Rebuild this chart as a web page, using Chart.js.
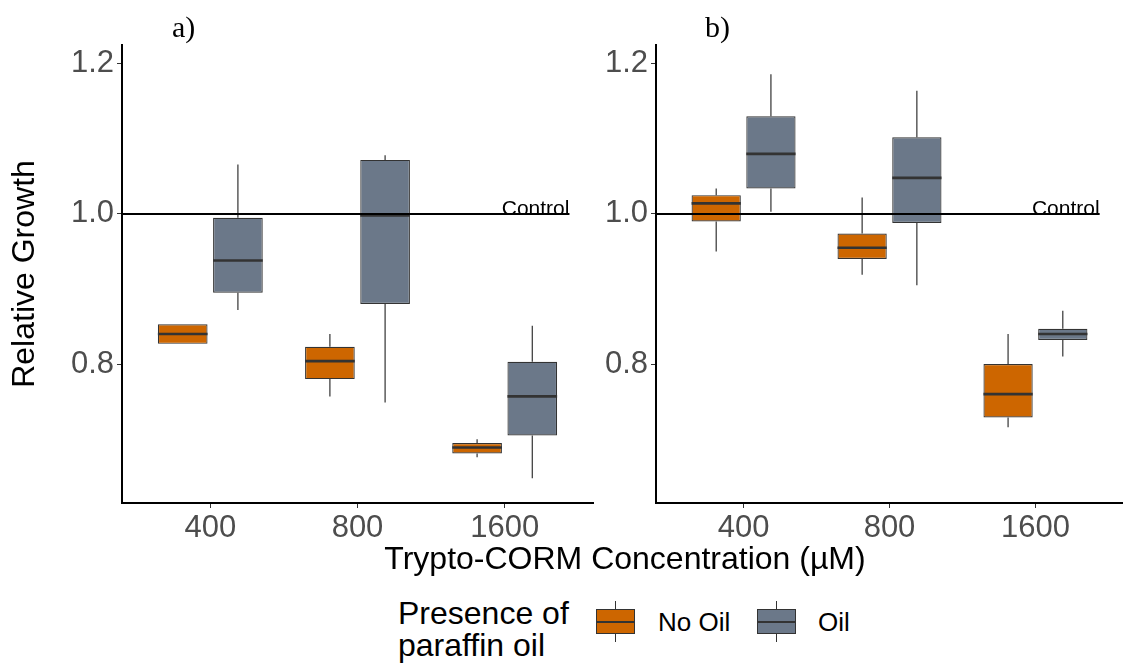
<!DOCTYPE html>
<html>
<head>
<meta charset="utf-8">
<script src="https://cdn.jsdelivr.net/npm/chart.js@4/dist/chart.umd.min.js"></script>
<style>
  body { margin: 0; width: 1123px; height: 666px; position: relative; background: #fff; overflow: hidden;
         font-family: 'Liberation Sans', Arial, sans-serif; }
  canvas { position: absolute; top: 0; }
  .panel-tag { position: absolute; top: 10px; font: 30px 'Liberation Serif', 'Times New Roman', serif; line-height: 34px; }
  .x-title { position: absolute; left: 325px; width: 600px; top: 539px; text-align: center; font-size: 32px; line-height: 38px; color: #000; }
  .legend-title { position: absolute; left: 398px; top: 597px; font-size: 32px; line-height: 32px; color: #000; }
  .key { position: absolute; top: 601px; width: 39px; height: 41px; }
  .key .whisker { position: absolute; left: 19px; top: 0; width: 1px; height: 41px; background: #333; }
  .key .box { position: absolute; left: 0; top: 8px; width: 37px; height: 23px; border: 1px solid #333; }
  .key .median { position: absolute; left: 1px; top: 20px; width: 37px; height: 2px; background: #333; }
  .key-label { position: absolute; top: 607px; font-size: 26px; line-height: 30px; color: #000; }
</style>
</head>
<body>
<canvas id="panelA" width="600" height="545" style="left:0"></canvas>
<canvas id="panelB" width="523" height="545" style="left:600px"></canvas>

<div class="panel-tag" style="left:172px">a)</div>
<div class="panel-tag" style="left:705px">b)</div>
<div class="x-title">Trypto-CORM Concentration (µM)</div>

<div class="legend-title">Presence of<br>paraffin oil</div>
<div class="key" style="left:596px"><div class="whisker"></div><div class="box" style="background:#CD6600"></div><div class="median"></div></div>
<div class="key-label" style="left:658px">No Oil</div>
<div class="key" style="left:757px"><div class="whisker"></div><div class="box" style="background:#6B7889"></div><div class="median"></div></div>
<div class="key-label" style="left:818px">Oil</div>

<script>
// Trypto-CORM growth boxplots, two panels

const concentrations = ['400', '800', '1600'];
const seriesNames = ['No Oil', 'Oil'];
const seriesColours = ['#CD6600', '#6B7889'];

// five-number summary per concentration: [min, q1, median, q3, max]
const panelANoOil = [[0.827, 0.827, 0.840, 0.853, 0.853], [0.757, 0.780, 0.804, 0.823, 0.840], [0.676, 0.681, 0.689, 0.695, 0.700]];
const panelAOil = [[0.872, 0.895, 0.938, 0.995, 1.066], [0.749, 0.880, 0.998, 1.072, 1.078], [0.648, 0.705, 0.757, 0.803, 0.851]];
const panelBNoOil = [[0.950, 0.990, 1.014, 1.025, 1.034], [0.919, 0.940, 0.955, 0.974, 1.022], [0.716, 0.729, 0.760, 0.800, 0.840]];
const panelBOil = [[1.003, 1.034, 1.080, 1.130, 1.186], [0.905, 0.988, 1.048, 1.102, 1.164], [0.810, 0.832, 0.840, 0.847, 0.871]];

const yTicks = [0.8, 1.0, 1.2];
const controlValue = 1.0;
const controlLabel = 'Control';

const FONT = "'Liberation Sans', Arial, sans-serif";
const DODGE = 0.1875;
const CONTROL_END = 3.44;

Chart.defaults.font.family = FONT;

// Whiskers go under the boxes, medians and the control line on top
const boxPlotExtras = {
  id: 'boxPlotExtras',
  beforeDatasetsDraw(chart) {
    const { ctx, scales: { y } } = chart;
    ctx.save();
    ctx.strokeStyle = '#333333';
    ctx.lineWidth = 1.2;
    chart.data.datasets.forEach((ds, di) => {
      chart.getDatasetMeta(di).data.forEach((bar, i) => {
        const [min, q1, , q3, max] = ds.stats[i];
        ctx.beginPath();
        ctx.moveTo(bar.x, y.getPixelForValue(max));
        ctx.lineTo(bar.x, y.getPixelForValue(q3));
        ctx.moveTo(bar.x, y.getPixelForValue(q1));
        ctx.lineTo(bar.x, y.getPixelForValue(min));
        ctx.stroke();
      });
    });
    ctx.restore();
  },
  afterDatasetsDraw(chart) {
    const { ctx, chartArea, scales: { x, y } } = chart;
    ctx.save();
    ctx.strokeStyle = '#333333';
    ctx.lineWidth = 2.6;
    chart.data.datasets.forEach((ds, di) => {
      chart.getDatasetMeta(di).data.forEach((bar, i) => {
        const my = y.getPixelForValue(ds.stats[i][2]);
        ctx.beginPath();
        ctx.moveTo(bar.x - bar.width / 2, my);
        ctx.lineTo(bar.x + bar.width / 2, my);
        ctx.stroke();
      });
    });

    // control reference line
    const cy = y.getPixelForValue(controlValue);
    const cx = x.getPixelForValue(CONTROL_END);
    ctx.strokeStyle = '#000';
    ctx.lineWidth = 2;
    ctx.beginPath();
    ctx.moveTo(chartArea.left, cy);
    ctx.lineTo(cx, cy);
    ctx.stroke();
    ctx.fillStyle = '#000';
    ctx.font = '21px ' + FONT;
    ctx.textAlign = 'right';
    ctx.textBaseline = 'alphabetic';
    ctx.fillText(controlLabel, cx, cy + 1);
    ctx.restore();
  }
};

function boxDataset(label, stats, offset, colour) {
  return {
    label,
    stats,
    data: stats.map((s, i) => ({ x: i + 1 + offset, y: [s[1], s[3]] })),
    backgroundColor: colour,
    borderColor: '#333333',
    borderWidth: 1.2,
    borderSkipped: false,
    grouped: false,
    categoryPercentage: 1,
    barPercentage: 0.9
  };
}

function makePanel(canvasId, noOil, oil, axisWidth, rightPad, showTitle) {
  const tickFont = { size: 31, family: FONT };
  return new Chart(document.getElementById(canvasId), {
    type: 'bar',
    data: {
      datasets: [
        boxDataset(seriesNames[0], noOil, -DODGE, seriesColours[0]),
        boxDataset(seriesNames[1], oil, DODGE, seriesColours[1])
      ]
    },
    options: {
      responsive: false,
      animation: false,
      layout: { padding: { top: 45, right: rightPad, left: 0, bottom: 0 } },
      plugins: { legend: { display: false }, tooltip: { enabled: false }, title: { display: false } },
      scales: {
        x: {
          type: 'linear',
          min: 0.4,
          max: 3.6,
          offset: false,
          afterBuildTicks: s => { s.ticks = concentrations.map((c, i) => ({ value: i + 1 })); },
          afterFit: s => { s.height = 42; },
          ticks: { callback: (v, i) => concentrations[i], font: tickFont, color: '#4D4D4D', padding: 2, autoSkip: false, maxRotation: 0 },
          grid: { drawOnChartArea: false, drawTicks: true, tickLength: 5, color: '#333333', offset: false },
          border: { display: true, color: '#000', width: 2 }
        },
        y: {
          min: 0.615,
          max: 1.225,
          beginAtZero: false,
          afterBuildTicks: s => { s.ticks = yTicks.map(v => ({ value: v })); },
          afterFit: s => { s.width = axisWidth; },
          ticks: { callback: v => v.toFixed(1), font: tickFont, color: '#4D4D4D', padding: 3 },
          grid: { drawOnChartArea: false, drawTicks: true, tickLength: 5, color: '#333333' },
          border: { display: true, color: '#000', width: 2 },
          title: { display: showTitle, text: 'Relative Growth', color: '#000', font: { size: 32, family: FONT }, padding: { top: 6, bottom: 0 } }
        }
      }
    },
    plugins: [boxPlotExtras]
  });
}

makePanel('panelA', panelANoOil, panelAOil, 122, 7, true);
makePanel('panelB', panelBNoOil, panelBOil, 56, 0, false);
</script>
</body>
</html>
